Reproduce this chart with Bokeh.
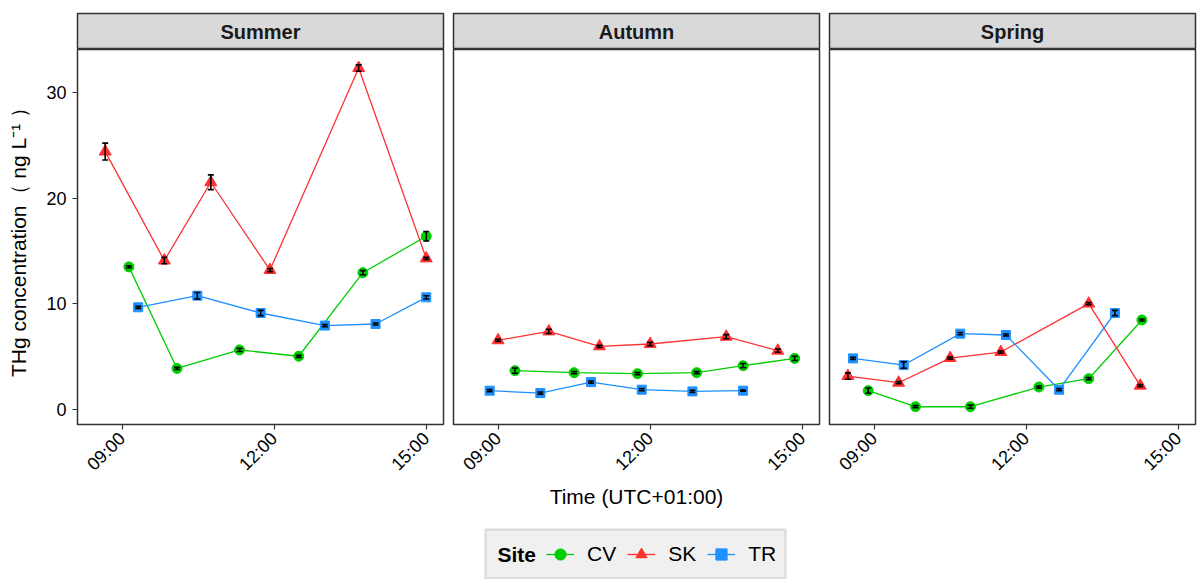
import math
from bokeh.plotting import figure
from bokeh.models import (Range1d, FixedTicker, Whisker, TeeHead, ColumnDataSource,
                          Legend, LegendItem, BoxAnnotation)
from bokeh.layouts import column, row
from bokeh.embed import file_html
from bokeh.resources import INLINE
from bokeh.core.properties import value

# ---------------- data ----------------
seasons = ["Summer", "Autumn", "Spring"]
sites = ["CV", "SK", "TR"]
tick_hours = [9, 12, 15]
tick_labels = ["09:00", "12:00", "15:00"]
y_ticks = [0, 10, 20, 30]

summer_cv_time = ["09:08", "10:05", "11:19", "12:29", "13:45", "15:00"]
summer_cv_thg = [13.5, 3.9, 5.65, 5.05, 12.95, 16.4]
summer_cv_sd = [0.1, 0.1, 0.15, 0.1, 0.2, 0.45]
summer_sk_time = ["08:40", "09:50", "10:45", "11:55", "13:40", "15:00"]
summer_sk_thg = [24.4, 14.1, 21.5, 13.2, 32.3, 14.3]
summer_sk_sd = [0.8, 0.3, 0.7, 0.15, 0.3, 0.1]
summer_tr_time = ["09:19", "10:29", "11:44", "13:00", "14:00", "15:00"]
summer_tr_thg = [9.68, 10.78, 9.14, 7.95, 8.1, 10.62]
summer_tr_sd = [0.1, 0.3, 0.25, 0.1, 0.1, 0.15]

autumn_cv_time = ["09:20", "10:30", "11:45", "12:55", "13:50", "14:51"]
autumn_cv_thg = [3.69, 3.5, 3.4, 3.5, 4.16, 4.85]
autumn_cv_sd = [0.25, 0.1, 0.1, 0.1, 0.2, 0.2]
autumn_sk_time = ["09:00", "10:00", "11:00", "12:00", "13:30", "14:31"]
autumn_sk_thg = [6.56, 7.4, 5.99, 6.21, 6.9, 5.58]
autumn_sk_sd = [0.1, 0.2, 0.1, 0.15, 0.2, 0.15]
autumn_tr_time = ["08:50", "09:50", "10:50", "11:50", "12:50", "13:50"]
autumn_tr_thg = [1.8, 1.57, 2.61, 1.89, 1.73, 1.8]
autumn_tr_sd = [0.1, 0.1, 0.1, 0.1, 0.1, 0.05]

spring_cv_time = ["08:53", "09:49", "10:54", "12:15", "13:14", "14:17"]
spring_cv_thg = [1.8, 0.28, 0.28, 2.14, 2.93, 8.48]
spring_cv_sd = [0.25, 0.1, 0.15, 0.1, 0.1, 0.1]
spring_sk_time = ["08:29", "09:29", "10:30", "11:30", "13:14", "14:15"]
spring_sk_thg = [3.18, 2.55, 4.88, 5.45, 10.03, 2.27]
spring_sk_sd = [0.3, 0.1, 0.1, 0.1, 0.1, 0.1]
spring_tr_time = ["08:35", "09:35", "10:42", "11:36", "12:39", "13:45"]
spring_tr_thg = [4.85, 4.22, 7.19, 7.06, 1.89, 9.14]
spring_tr_sd = [0.1, 0.3, 0.1, 0.1, 0.1, 0.25]

series = {
    "Summer": {"CV": (summer_cv_time, summer_cv_thg, summer_cv_sd),
               "SK": (summer_sk_time, summer_sk_thg, summer_sk_sd),
               "TR": (summer_tr_time, summer_tr_thg, summer_tr_sd)},
    "Autumn": {"CV": (autumn_cv_time, autumn_cv_thg, autumn_cv_sd),
               "SK": (autumn_sk_time, autumn_sk_thg, autumn_sk_sd),
               "TR": (autumn_tr_time, autumn_tr_thg, autumn_tr_sd)},
    "Spring": {"CV": (spring_cv_time, spring_cv_thg, spring_cv_sd),
               "SK": (spring_sk_time, spring_sk_thg, spring_sk_sd),
               "TR": (spring_tr_time, spring_tr_thg, spring_tr_sd)},
}

# ---------------- style ----------------
FONT = "Liberation Sans"
COLORS = {"CV": "#00CD00", "SK": "#FF3030", "TR": "#1E90FF"}
MARKERS = {"CV": "circle", "SK": "triangle", "TR": "square"}
SIZES = {"CV": 10, "SK": 12, "TR": 9}
XR = (8.12, 15.34)
YR = (-1.4, 34.05)
FW, FH = 366, 375
BL = [77, 5, 5]
BR = [5, 5, 2]
TOTAL_W = sum(BL) + sum(BR) + 3 * FW


def to_hours(t):
    h, m = t.split(":")
    return int(h) + int(m) / 60.0


strips = []
panels = []
for i, season in enumerate(seasons):
    s = figure(frame_width=FW, frame_height=36, x_range=Range1d(0, 1), y_range=Range1d(0, 1),
               x_axis_location=None, y_axis_location=None, toolbar_location=None,
               output_backend="svg", min_border_top=13, min_border_bottom=0,
               min_border_left=BL[i], min_border_right=BR[i],
               background_fill_color="#D9D9D9", border_fill_color="white",
               outline_line_color="#333333", outline_line_width=1.5)
    s.xgrid.visible = False
    s.ygrid.visible = False
    s.text(x=[0.5], y=[0.5], text=[season], text_align="center", text_baseline="middle",
           text_font=value(FONT), text_font_style="bold", text_font_size="20px",
           text_color="#1A1A1A")
    strips.append(s)

    p = figure(frame_width=FW, frame_height=FH, x_range=Range1d(*XR), y_range=Range1d(*YR),
               toolbar_location=None, output_backend="svg",
               min_border_top=0, min_border_bottom=86,
               min_border_left=BL[i], min_border_right=BR[i],
               y_axis_location="left" if i == 0 else None,
               background_fill_color="white", border_fill_color="white",
               outline_line_color="#333333", outline_line_width=1.5)
    p.xgrid.visible = False
    p.ygrid.visible = False

    for site in sites:
        times, vals, sds = series[season][site]
        xs = [to_hours(t) for t in times]
        src = ColumnDataSource(dict(x=xs, y=vals,
                                    upper=[v + d for v, d in zip(vals, sds)],
                                    lower=[v - d for v, d in zip(vals, sds)]))
        p.line("x", "y", source=src, line_color=COLORS[site], line_width=1.3)
        p.scatter("x", "y", source=src, marker=MARKERS[site], size=SIZES[site],
                  fill_color=COLORS[site], line_color=COLORS[site])
        w = Whisker(base="x", upper="upper", lower="lower", source=src, dimension="height",
                    line_color="black", line_width=1.6, level="overlay",
                    upper_head=TeeHead(size=6, line_color="black", line_width=1.6),
                    lower_head=TeeHead(size=6, line_color="black", line_width=1.6))
        p.add_layout(w)

    ax = p.xaxis[0]
    ax.ticker = FixedTicker(ticks=tick_hours, minor_ticks=[])
    ax.major_label_overrides = {h: l for h, l in zip(tick_hours, tick_labels)}
    ax.major_label_orientation = math.pi / 4
    ax.axis_line_color = None
    ax.major_tick_in = 0
    ax.major_tick_out = 5
    ax.major_tick_line_color = "#333333"
    ax.major_tick_line_width = 1.2
    ax.minor_tick_line_color = None
    ax.major_label_text_font = FONT
    ax.major_label_text_font_size = "18px"
    ax.major_label_text_color = "black"
    ax.major_label_standoff = 6
    if i == 1:
        ax.axis_label = "Time (UTC+01:00)"
        ax.axis_label_text_font = FONT
        ax.axis_label_text_font_size = "21px"
        ax.axis_label_text_font_style = "normal"
        ax.axis_label_text_color = "black"
        ax.axis_label_standoff = 1
    if i == 0:
        ay = p.yaxis[0]
        ay.ticker = FixedTicker(ticks=y_ticks, minor_ticks=[])
        ay.axis_line_color = None
        ay.major_tick_in = 0
        ay.major_tick_out = 5
        ay.major_tick_line_color = "#333333"
        ay.major_tick_line_width = 1.2
        ay.minor_tick_line_color = None
        ay.major_label_text_font = FONT
        ay.major_label_text_font_size = "18px"
        ay.major_label_text_color = "black"
        ay.major_label_standoff = 6
        ay.axis_label = "THg concentration\uff08 ng L\u207b\u00b9 \uff09"
        ay.axis_label_text_font = FONT
        ay.axis_label_text_font_size = "21px"
        ay.axis_label_text_font_style = "normal"
        ay.axis_label_text_color = "black"
        ay.axis_label_standoff = 13
    panels.append(p)

# ---------------- legend ----------------
LH = 69
lf = figure(width=TOTAL_W, height=LH, x_range=Range1d(0, TOTAL_W), y_range=Range1d(0, LH),
            x_axis_location=None, y_axis_location=None, toolbar_location=None,
            output_backend="svg", min_border=0, outline_line_color=None,
            border_fill_color="white", background_fill_color="white")
lf.xgrid.visible = False
lf.ygrid.visible = False
lf.add_layout(BoxAnnotation(left=485, right=785, bottom=2, top=51,
                            fill_color="#F0F0F0", fill_alpha=1.0,
                            line_color="#A6A6A6", line_width=2.5, level="underlay"))
lf.text(x=[497], y=[26.5], text=["Site"], text_align="left", text_baseline="middle",
        text_font=value(FONT), text_font_style="bold", text_font_size="21px",
        text_color="black")
items = []
for site in sites:
    e = ColumnDataSource(dict(x=[-100], y=[-100]))
    lr = lf.line("x", "y", source=e, line_color=COLORS[site], line_width=1.3)
    sr = lf.scatter("x", "y", source=e, marker=MARKERS[site], size=SIZES[site],
                    fill_color=COLORS[site], line_color=COLORS[site])
    items.append(LegendItem(label=site, renderers=[lr, sr]))
leg = Legend(items=items, orientation="horizontal", location=(546, 12))
leg.label_text_font = FONT
leg.label_text_font_size = "21px"
leg.label_text_color = "black"
leg.label_text_baseline = "middle"
leg.label_standoff = 13
leg.glyph_width = 28
leg.glyph_height = 28
leg.label_height = 28
leg.spacing = 11
leg.padding = 0
leg.margin = 0
leg.border_line_color = None
leg.background_fill_alpha = 0.0
lf.add_layout(leg)

layout = column(row(*strips), row(*panels), lf)
open("out.html", "w").write(file_html(layout, INLINE))
